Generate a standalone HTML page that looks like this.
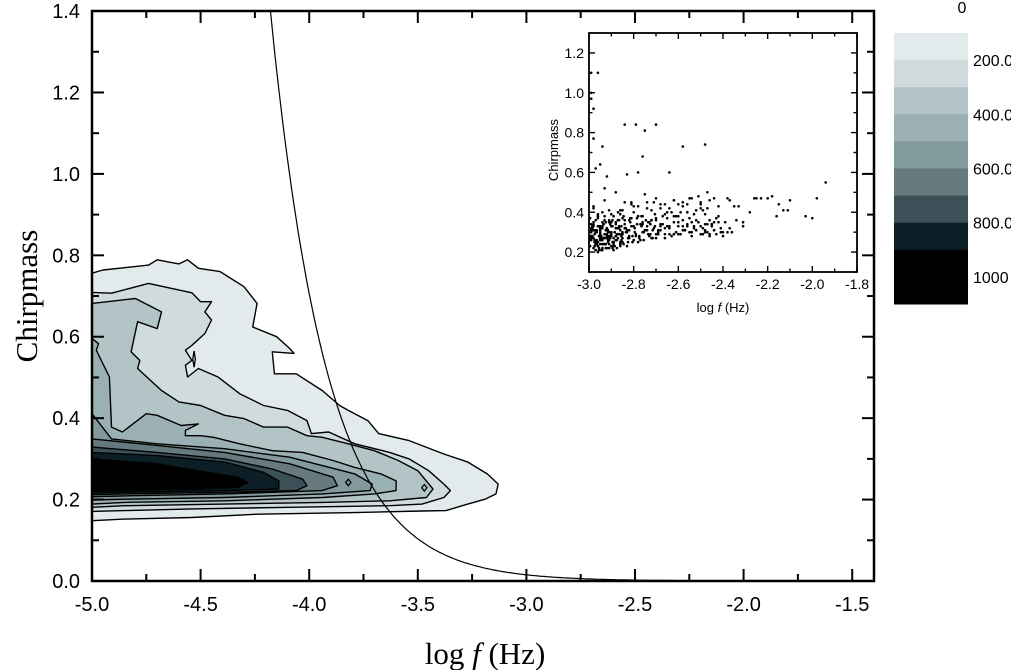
<!DOCTYPE html>
<html><head><meta charset="utf-8"><style>
html,body{margin:0;padding:0;background:#fff;}
svg{display:block;}
</style></head><body>
<svg id="chart" width="1011" height="670" viewBox="0 0 1011 670" xmlns="http://www.w3.org/2000/svg" font-family="Liberation Sans, sans-serif"></svg>
<script>
// ---------- data ----------
const xTicks = [-5.0,-4.5,-4.0,-3.5,-3.0,-2.5,-2.0,-1.5];
const yTicks = [0.0,0.2,0.4,0.6,0.8,1.0,1.2,1.4];
const levelColors = ["#e3eaec","#cfdbdd","#b3c4c7","#9bb0b4","#82999d","#65797e","#3c5057","#0d1f26","#000000"];
const level1 = [[-5,0.756],[-4.95,0.764],[-4.74,0.776],[-4.70,0.789],[-4.60,0.779],[-4.56,0.789],[-4.51,0.768],[-4.41,0.760],[-4.30,0.723],[-4.24,0.682],[-4.26,0.624],[-4.15,0.600],[-4.09,0.571],[-4.07,0.559],[-4.17,0.563],[-4.16,0.509],[-4.06,0.509],[-3.94,0.468],[-3.86,0.431],[-3.82,0.419],[-3.73,0.394],[-3.68,0.362],[-3.54,0.345],[-3.38,0.312],[-3.27,0.292],[-3.18,0.263],[-3.13,0.238],[-3.14,0.214],[-3.19,0.201],[-3.27,0.189],[-3.37,0.173],[-3.48,0.172],[-3.79,0.168],[-4.24,0.164],[-4.54,0.156],[-4.85,0.152],[-5,0.148]];
const level2 = [[-5,0.709],[-4.91,0.707],[-4.74,0.731],[-4.54,0.708],[-4.50,0.686],[-4.45,0.686],[-4.48,0.661],[-4.45,0.641],[-4.48,0.608],[-4.54,0.579],[-4.57,0.567],[-4.54,0.542],[-4.57,0.530],[-4.56,0.501],[-4.51,0.522],[-4.42,0.501],[-4.32,0.460],[-4.21,0.431],[-4.10,0.419],[-4.01,0.394],[-3.99,0.362],[-3.91,0.366],[-3.79,0.337],[-3.63,0.316],[-3.54,0.300],[-3.45,0.271],[-3.38,0.238],[-3.35,0.222],[-3.38,0.205],[-3.48,0.189],[-3.63,0.185],[-4.09,0.181],[-4.54,0.177],[-4.85,0.173],[-5,0.171]];
const level3 = [[-5,0.682],[-4.80,0.694],[-4.68,0.661],[-4.70,0.620],[-4.79,0.637],[-4.82,0.563],[-4.78,0.542],[-4.79,0.522],[-4.68,0.468],[-4.60,0.440],[-4.50,0.431],[-4.39,0.407],[-4.30,0.399],[-4.21,0.378],[-4.10,0.378],[-4.01,0.357],[-3.94,0.353],[-3.82,0.337],[-3.70,0.320],[-3.59,0.296],[-3.50,0.271],[-3.43,0.226],[-3.46,0.205],[-3.63,0.197],[-3.94,0.193],[-4.39,0.189],[-4.85,0.185],[-5,0.181]];
const level4 = [[-5,0.596],[-4.97,0.583],[-4.98,0.567],[-4.92,0.501],[-4.91,0.378],[-4.86,0.366],[-4.75,0.411],[-4.70,0.407],[-4.59,0.382],[-4.51,0.386],[-4.57,0.370],[-4.57,0.357],[-4.50,0.357],[-4.44,0.353],[-4.32,0.337],[-4.17,0.320],[-4.03,0.316],[-3.89,0.296],[-3.79,0.279],[-3.67,0.263],[-3.60,0.246],[-3.60,0.222],[-3.70,0.214],[-3.94,0.205],[-4.39,0.197],[-4.85,0.193],[-5,0.189]];
const level5 = [[-5,0.411],[-4.91,0.349],[-4.70,0.337],[-4.39,0.325],[-4.09,0.304],[-3.79,0.263],[-3.71,0.238],[-3.72,0.222],[-3.94,0.214],[-4.39,0.205],[-4.85,0.201],[-5,0.199]];
const level6 = [[-5,0.349],[-4.70,0.333],[-4.39,0.316],[-4.09,0.288],[-3.89,0.255],[-3.87,0.234],[-3.94,0.222],[-4.39,0.214],[-4.85,0.209],[-5,0.207]];
const level7 = [[-5,0.329],[-4.70,0.316],[-4.39,0.300],[-4.17,0.275],[-4.03,0.250],[-4.01,0.234],[-4.06,0.222],[-4.39,0.218],[-4.85,0.214],[-5,0.212]];
const level8 = [[-5,0.316],[-4.70,0.308],[-4.39,0.292],[-4.21,0.267],[-4.14,0.246],[-4.14,0.226],[-4.39,0.222],[-4.85,0.218],[-5,0.216]];
const level9 = [[-5,0.300],[-4.70,0.288],[-4.47,0.267],[-4.33,0.255],[-4.28,0.242],[-4.33,0.230],[-4.54,0.226],[-4.85,0.222],[-5,0.220]];
const islands = [[-3.82,0.242,0.012,0.008],[-3.47,0.229,0.012,0.008],[-4.53,0.545,0.006,0.02]];
const cbLabels = ["0","200.0","400.0","600.0","800.0","1000"];
const cbColors = ["#e3eaec","#cfdbdd","#b3c4c7","#9bb0b4","#82999d","#65797e","#3c5057","#0d1f26","#000000","#000000"];
const insetXTicks = [-3.0,-2.8,-2.6,-2.4,-2.2,-2.0,-1.8];
const insetYTicks = [0.2,0.4,0.6,0.8,1.0,1.2];
const scatterX = [-2.99,-2.96,-2.99,-2.99,-2.98,-2.98,-2.94,-2.84,-2.79,-2.75,-2.70,-2.58,-2.48,-2.76,-2.95,-2.97,-2.64,-2.78,-2.83,-2.92,-1.94,-1.98,-2.00,-2.03,-2.10,-2.11,-2.13,-2.15,-2.16,-2.18,-2.20,-2.23,-2.25,-2.26,-2.28,-2.31,-2.31,-2.33,-2.35,-2.37,-2.38,-2.40,-2.42,-2.44,-2.45,-2.46,-2.47,-2.48,-2.50,-2.51,-2.53,-2.55,-2.56,-2.57,-2.58,-2.60,-2.61,-2.62,-2.64,-2.65,-2.66,-2.68,-2.69,-2.70,-2.71,-2.72,-2.73,-2.74,-2.75,-2.76,-2.77,-2.78,-2.79,-2.80,-2.81,-2.82,-2.83,-2.84,-2.85,-2.86,-2.87,-2.88,-2.89,-2.90,-2.91,-2.92,-2.93,-2.94,-2.95,-2.96,-2.97,-2.98,-2.99,-2.99,-2.98,-2.97,-2.96,-2.95,-2.94,-2.93,-2.92,-2.91,-2.90,-2.89,-2.88,-2.87,-2.86,-2.85,-2.84,-2.83,-2.82,-2.81,-2.80,-2.79,-2.78,-2.77,-2.76,-2.75,-2.74,-2.73,-2.72,-2.71,-2.70,-2.69,-2.68,-2.67,-2.66,-2.65,-2.63,-2.62,-2.60,-2.58,-2.56,-2.54,-2.52,-2.50,-2.49,-2.47,-2.45,-2.44,-2.42,-2.40,-2.39,-2.37,-2.36,-2.34,-2.99,-2.98,-2.97,-2.96,-2.95,-2.94,-2.93,-2.92,-2.91,-2.90,-2.89,-2.88,-2.87,-2.86,-2.85,-2.84,-2.83,-2.82,-2.81,-2.80,-2.99,-2.98,-2.97,-2.96,-2.95,-2.94,-2.93,-2.92,-2.91,-2.90,-2.89,-2.88,-2.87,-2.86,-2.85,-2.99,-2.98,-2.97,-2.96,-2.95,-2.94,-2.93,-2.92,-2.91,-2.90,-2.99,-2.98,-2.97,-2.96,-2.95,-2.94,-2.93,-2.92,-2.78,-2.74,-2.70,-2.66,-2.62,-2.58,-2.55,-2.52,-2.48,-2.46,-2.44,-2.41,-2.38,-2.72,-2.68,-2.64,-2.59,-2.54,-2.50,-2.47,-2.43,-2.60,-2.56,-2.53,-2.49,-2.76,-2.81,-2.86,-2.91,-2.96,-2.99,-2.97,-2.95,-2.93,-2.91,-2.89,-2.87,
-2.995,-2.985,-2.975,-2.965,-2.955,-2.945,-2.935,-2.925,-2.915,-2.905,-2.895,-2.885,-2.875,-2.865,-2.855,-2.845,-2.835,-2.825,-2.815,-2.805,-2.795,-2.785,-2.775,-2.765,-2.755,-2.745,-2.735,-2.725,-2.715,-2.705,
-2.995,-2.985,-2.975,-2.965,-2.955,-2.945,-2.935,-2.925,-2.915,-2.905,-2.895,-2.885,-2.875,-2.865,-2.855,-2.845,-2.835,-2.825,-2.815,-2.805,-2.795,-2.785,-2.775,-2.765,-2.755,-2.745,-2.735,-2.725,-2.715,-2.705,
-2.995,-2.99,-2.985,-2.98,-2.975,-2.97,-2.965,-2.96,-2.955,-2.95,-2.945,-2.94,-2.935,-2.93,-2.925,-2.92,-2.915,-2.91,-2.905,-2.90,-2.895,-2.89,-2.885,-2.88,-2.875,-2.87,-2.865,-2.86,-2.855,-2.85,
-2.995,-2.99,-2.985,-2.98,-2.975,-2.97,-2.965,-2.96,-2.955,-2.95,-2.945,-2.94,-2.935,-2.93,-2.925,-2.92,-2.915,-2.91,-2.905,-2.90,-2.895,-2.89,-2.885,-2.88,-2.875,-2.87,-2.865,-2.86,-2.855,-2.85,
-2.70,-2.69,-2.68,-2.67,-2.66,-2.65,-2.64,-2.63,-2.62,-2.61,-2.60,-2.59,-2.58,-2.57,-2.56,-2.55,-2.54,-2.53,-2.52,-2.51,-2.50,-2.49,-2.48,-2.47,-2.46,-2.45,-2.44,-2.43,-2.42,-2.41,
-2.84,-2.82,-2.80,-2.78,-2.76,-2.74,-2.72,-2.70,-2.68,-2.66,-2.64,-2.62,-2.60,-2.58,-2.56,-2.54,-2.52,-2.50,-2.48,-2.46];
const scatterY = [1.10,1.10,1.00,0.97,0.92,0.77,0.73,0.84,0.84,0.81,0.84,0.73,0.74,0.68,0.64,0.62,0.60,0.60,0.59,0.58,0.55,0.47,0.37,0.38,0.46,0.41,0.41,0.44,0.38,0.48,0.47,0.47,0.47,0.47,0.40,0.35,0.33,0.43,0.43,0.46,0.47,0.30,0.43,0.47,0.34,0.36,0.50,0.31,0.45,0.48,0.32,0.47,0.40,0.31,0.45,0.29,0.38,0.46,0.33,0.40,0.32,0.42,0.29,0.36,0.45,0.27,0.35,0.31,0.49,0.30,0.34,0.38,0.28,0.43,0.33,0.36,0.30,0.45,0.27,0.39,0.32,0.50,0.24,0.35,0.41,0.29,0.52,0.33,0.26,0.38,0.31,0.22,0.28,0.34,0.43,0.25,0.37,0.30,0.21,0.46,0.32,0.27,0.39,0.23,0.34,0.29,0.41,0.25,0.36,0.31,0.27,0.44,0.33,0.29,0.38,0.26,0.35,0.31,0.42,0.28,0.36,0.32,0.47,0.30,0.34,0.38,0.27,0.33,0.40,0.29,0.35,0.31,0.44,0.30,0.36,0.33,0.29,0.42,0.34,0.31,0.38,0.28,0.35,0.32,0.30,0.36,0.27,0.31,0.24,0.33,0.29,0.26,0.38,0.22,0.35,0.30,0.27,0.32,0.40,0.25,0.29,0.34,0.23,0.31,0.37,0.26,0.28,0.33,0.30,0.20,0.29,0.35,0.24,0.31,0.26,0.33,0.21,0.28,0.36,0.23,0.30,0.27,0.34,0.25,0.39,0.31,0.22,0.27,0.32,0.24,0.29,0.26,0.42,0.30,0.23,0.27,0.32,0.36,0.28,0.25,0.33,0.29,0.44,0.38,0.33,0.37,0.31,0.34,0.29,0.35,0.32,0.30,0.36,0.33,0.29,0.40,0.35,0.42,0.30,0.37,0.44,0.33,0.39,0.41,0.34,0.45,0.31,0.28,0.25,0.32,0.21,0.24,0.27,0.30,0.25,0.29,0.23,0.31,
0.26,0.31,0.22,0.28,0.34,0.24,0.30,0.27,0.36,0.23,0.29,0.33,0.26,0.38,0.30,0.25,0.35,0.28,0.32,0.37,0.27,0.33,0.30,0.36,0.29,0.34,0.31,0.39,0.28,0.33,
0.29,0.24,0.33,0.21,0.27,0.31,0.25,0.35,0.22,0.30,0.26,0.36,0.28,0.24,0.32,0.27,0.37,0.25,0.30,0.34,0.28,0.38,0.26,0.31,0.35,0.29,0.27,0.33,0.37,0.30,
0.28,0.35,0.23,0.30,0.26,0.38,0.21,0.32,0.27,0.24,0.34,0.29,0.22,0.31,0.26,0.36,0.28,0.23,0.33,0.25,0.30,0.35,0.22,0.27,0.32,0.24,0.29,0.37,0.26,0.31,
0.32,0.27,0.25,0.36,0.30,0.23,0.28,0.33,0.26,0.40,0.24,0.29,0.35,0.27,0.31,0.22,0.34,0.28,0.25,0.38,0.30,0.26,0.32,0.36,0.29,0.24,0.33,0.41,0.27,0.31,
0.31,0.34,0.29,0.37,0.32,0.28,0.35,0.30,0.33,0.29,0.36,0.31,0.34,0.30,0.28,0.33,0.31,0.35,0.29,0.32,0.30,0.34,0.28,0.33,0.31,0.29,0.35,0.30,0.32,0.28,
0.40,0.43,0.38,0.45,0.41,0.37,0.44,0.39,0.42,0.46,0.38,0.43,0.40,0.47,0.41,0.44,0.39,0.46,0.42,0.45];

// ---------- helpers ----------
const NS = "http://www.w3.org/2000/svg";
const svg = document.getElementById('chart');
function mk(tag, attrs, parent, text){
  const e = document.createElementNS(NS, tag);
  for (const k in attrs) e.setAttribute(k, attrs[k]);
  if (text !== undefined) e.textContent = text;
  (parent||svg).appendChild(e);
  return e;
}
const X0=92, XS=217.2, Y0=581, YS=407.1;
const xS = v => X0 + (v+5)*XS;
const yS = v => Y0 - v*YS;
const PL=92, PR=874, PT=11, PB=581;
const IL=589, IR=857, IT=33, IB=272;
const ixS = v => IL + (v+3)/1.2*(IR-IL);
const iyS = v => IB - (v-0.1)/1.2*(IB-IT);

const defs = mk('defs',{});
const cp = mk('clipPath',{id:'plotclip'},defs);
mk('rect',{x:PL,y:PT,width:PR-PL,height:PB-PT},cp);

const cg = mk('g',{'clip-path':'url(#plotclip)'});


const levels=[level1,level2,level3,level4,level5,level6,level7,level8,level9];
levels.forEach((lv,i)=>{
  const d = lv.map((p,j)=>(j?'L':'M')+xS(p[0]).toFixed(1)+','+yS(p[1]).toFixed(1)).join(' ')+' Z';
  const p = mk('path',{d:d,fill:levelColors[i],stroke:'#000','stroke-width':1.4,'stroke-linejoin':'round'},cg);
  
  
});
islands.forEach((s,i)=>{
  const [cx,cy,rx,ry]=s;
  const d='M'+xS(cx-rx)+','+yS(cy)+' L'+xS(cx)+','+yS(cy+ry)+' L'+xS(cx+rx)+','+yS(cy)+' L'+xS(cx)+','+yS(cy-ry)+' Z';
  const p = mk('path',{d:d,fill:'none',stroke:'#000','stroke-width':1.3},cg);
  
  
});
let cd='';
for(let v=-4.25; v<=-1.39; v+=0.01){
  const m = 0.30*Math.pow(10, -5/3*(v+3.777));
  cd += (cd?'L':'M')+xS(v).toFixed(1)+','+yS(m).toFixed(1)+' ';
}
const curve = mk('path',{d:cd,fill:'none',stroke:'#000','stroke-width':1.2},cg);



const frame = mk('rect',{x:PL,y:PT,width:PR-PL,height:PB-PT,fill:'none',stroke:'#000','stroke-width':2.5});



const tg = mk('g',{stroke:'#000','stroke-width':2});
for(let v=-5; v<=-1.4; v+=0.25){
  const major = Math.abs(v*2-Math.round(v*2))<1e-6;
  const L = major?12:7; const x=xS(v);
  mk('line',{x1:x,y1:PB,x2:x,y2:PB-L},tg);
  mk('line',{x1:x,y1:PT,x2:x,y2:PT+L},tg);
}
for(let i=0;i<=14;i++){
  const v=i*0.1; const L=(i%2===0)?12:7; const y=yS(v);
  mk('line',{x1:PL,y1:y,x2:PL+L,y2:y},tg);
  mk('line',{x1:PR,y1:y,x2:PR-L,y2:y},tg);
}
xTicks.forEach(v=>{
  const t=mk('text',{x:xS(v),y:611,'font-size':20,'text-anchor':'middle'},svg,v.toFixed(1));
  
  
});
yTicks.forEach(v=>{
  const t=mk('text',{x:80,y:yS(v)+7,'font-size':20,'text-anchor':'end'},svg,v.toFixed(1));
  
  
});
const xt = mk('text',{x:485,y:664,'font-size':31,'text-anchor':'middle','font-family':'Liberation Serif, serif'});


mk('tspan',{},xt,'log ');
mk('tspan',{'font-style':'italic'},xt,'f');
mk('tspan',{},xt,' (Hz)');
const yt = mk('text',{x:0,y:0,'font-size':31,'text-anchor':'middle','font-family':'Liberation Serif, serif',transform:'translate(37,296) rotate(-90)'},svg,'Chirpmass');



// inset
const ig = mk('g',{});


mk('rect',{x:IL,y:IT,width:IR-IL,height:IB-IT,fill:'#fff'},ig);
for(let i=0;i<scatterX.length;i++){
  const c = mk('circle',{cx:ixS(scatterX[i]).toFixed(1),cy:iyS(scatterY[i]).toFixed(1),r:1.3,fill:'#000'},ig);
  
  
}
mk('rect',{x:IL,y:IT,width:IR-IL,height:IB-IT,fill:'none',stroke:'#000','stroke-width':1.8},ig);
const itg = mk('g',{stroke:'#000','stroke-width':1.4},ig);
for(let i=0;i<=12;i++){
  const v=-3+i*0.1; const L=(i%2===0)?6:3.5; const x=ixS(v);
  mk('line',{x1:x,y1:IB,x2:x,y2:IB-L},itg);
  mk('line',{x1:x,y1:IT,x2:x,y2:IT+L},itg);
}
for(let i=1;i<=12;i++){
  const v=0.1*i; const L=(i%2===0)?6:3.5; const y=iyS(v);
  mk('line',{x1:IL,y1:y,x2:IL+L,y2:y},itg);
  mk('line',{x1:IR,y1:y,x2:IR-L,y2:y},itg);
}
insetXTicks.forEach(v=>{
  const t=mk('text',{x:ixS(v),y:IB+17,'font-size':14,'text-anchor':'middle'},ig,v.toFixed(1));
  
  
});
insetYTicks.forEach(v=>{
  const t=mk('text',{x:IL-5,y:iyS(v)+5,'font-size':14,'text-anchor':'end'},ig,v.toFixed(1));
  
  
});
const ixt = mk('text',{x:723,y:312,'font-size':13,'text-anchor':'middle'},ig);


mk('tspan',{},ixt,'log ');
mk('tspan',{'font-style':'italic'},ixt,'f');
mk('tspan',{},ixt,' (Hz)');
const iyt = mk('text',{x:0,y:0,'font-size':13,'text-anchor':'middle',transform:'translate(558,150) rotate(-90)'},ig,'Chirpmass');



// colorbar
const cbg = mk('g',{});


const CBL=894, CBW=74, CBT=33, CBH=27.1;
cbColors.forEach((c,i)=>{
  const r=mk('rect',{x:CBL,y:CBT+i*CBH,width:CBW,height:CBH+0.5,fill:c},cbg);
  
  
});
cbLabels.forEach((s,i)=>{
  const y = i===0 ? 13 : CBT + (2*i-1)*CBH + 6;
  const t=mk('text',{x:i===0?962:973,y:y,'font-size':16,'text-anchor':i===0?'middle':'start'},cbg,s);
  
  
});
</script>
</body></html>
